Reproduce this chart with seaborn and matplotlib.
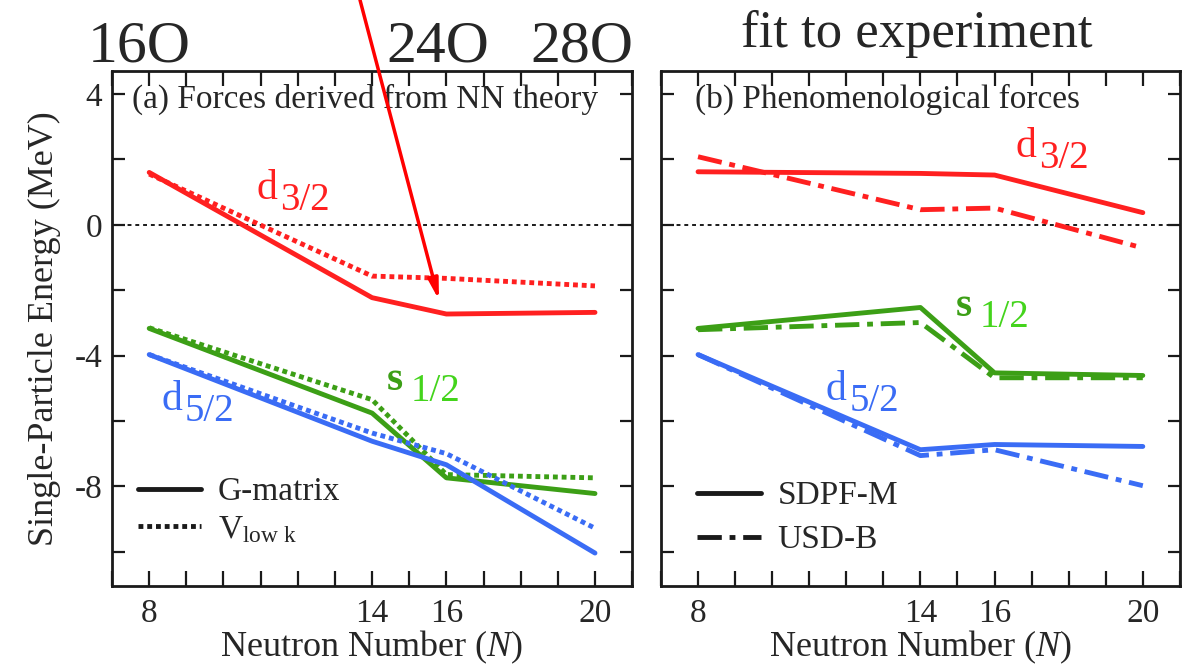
import numpy as np
import pandas as pd
import matplotlib
matplotlib.use("Agg")
import matplotlib.pyplot as plt
import seaborn as sns
from matplotlib.lines import Line2D

# neutron numbers where the energies are given
N = [8, 14, 16, 20]

# (a) forces derived from NN theory
a_d32_g = [1.60, -2.23, -2.73, -2.68]
a_d32_v = [1.55, -1.57, -1.64, -1.87]
a_s12_g = [-3.17, -5.76, -7.74, -8.22]
a_s12_v = [-3.15, -5.35, -7.64, -7.74]
a_d52_g = [-3.97, -6.62, -7.34, -10.04]
a_d52_v = [-3.97, -6.37, -7.00, -9.28]

# (b) phenomenological forces
b_d32_s = [1.62, 1.57, 1.52, 0.37]
b_d32_u = [2.08, 0.46, 0.51, -0.71]
b_s12_s = [-3.17, -2.53, -4.53, -4.61]
b_s12_u = [-3.21, -2.99, -4.68, -4.68]
b_d52_s = [-3.97, -6.88, -6.72, -6.78]
b_d52_u = [-3.97, -7.06, -6.88, -7.98]

x_labels = {8: "8", 14: "14", 16: "16", 20: "20"}
y_labels = {4: "4", 0: "0", -4: "-4", -8: "-8"}
isotopes = ["16O", "24O", "28O"]

RED = "#ff2020"
GREEN = "#3c9f16"
GREEN_LT = "#44d41c"
BLUE = "#3a6cf5"
palette = {"d3/2": RED, "s1/2": GREEN, "d5/2": BLUE}
SERIF = ["Liberation Serif", "DejaVu Serif"]


def long_frame(series, forces):
    rows = []
    for orb, pair in series.items():
        for force, vals in zip(forces, pair):
            for n, e in zip(N, vals):
                rows.append({"N": n, "E": e, "orbital": orb, "force": force})
    return pd.DataFrame(rows)


df_a = long_frame({"d3/2": (a_d32_g, a_d32_v), "s1/2": (a_s12_g, a_s12_v),
                   "d5/2": (a_d52_g, a_d52_v)}, ["G-matrix", "Vlowk"])
df_b = long_frame({"d3/2": (b_d32_s, b_d32_u), "s1/2": (b_s12_s, b_s12_u),
                   "d5/2": (b_d52_s, b_d52_u)}, ["SDPF-M", "USD-B"])

sns.set_theme(style="ticks")
plt.rcParams["font.family"] = SERIF
plt.rcParams["mathtext.fontset"] = "custom"
plt.rcParams["mathtext.rm"] = "Liberation Serif"
plt.rcParams["mathtext.it"] = "Liberation Serif:italic"

fig = plt.figure(figsize=(11.82, 6.66), dpi=100)
ax1 = fig.add_axes([0.0948, 0.120, 0.440, 0.7733])
ax2 = fig.add_axes([0.5592, 0.120, 0.439, 0.7733])

DOT = (1, 0.8)
DASHDOT = (5, 1.6, 1.2, 1.6)
LW = 3.5

sns.lineplot(data=df_a, x="N", y="E", hue="orbital", style="force", palette=palette,
             dashes={"G-matrix": "", "Vlowk": DOT}, estimator=None, sort=False,
             lw=LW, legend=False, ax=ax1)
sns.lineplot(data=df_b, x="N", y="E", hue="orbital", style="force", palette=palette,
             dashes={"SDPF-M": "", "USD-B": DASHDOT}, estimator=None, sort=False,
             lw=LW, legend=False, ax=ax2)

for ax in (ax1, ax2):
    ax.axhline(0, color="k", lw=1.4, ls=(0, (2, 2)), zorder=1)
    ax.set_xlim(7, 21)
    ax.set_ylim(-11.05, 4.7)
    ax.set_xticks(range(7, 22))
    ax.set_xticklabels([x_labels.get(v, "") for v in range(7, 22)])
    ax.set_yticks(range(-10, 5, 2))
    ax.tick_params(axis="both", direction="in", top=True, right=True,
                   labelsize=24, width=1.6, color="k")
    ax.tick_params(axis="x", length=11, pad=9)
    ax.tick_params(axis="y", length=9, pad=7)
    for s in ax.spines.values():
        s.set_linewidth(2)
        s.set_color("k")
    ax.set_xlabel("Neutron Number ($N$)", fontsize=26, labelpad=0)

ax1.set_yticklabels([y_labels.get(v, "") for v in range(-10, 5, 2)])
ax2.set_yticklabels([])
ax1.set_ylabel("Single-Particle Energy (MeV)", fontsize=26, labelpad=10)
ax2.set_ylabel("")

ax1.text(0.038, 0.945, "(a) Forces derived from NN theory", transform=ax1.transAxes,
         fontsize=24, va="center", ha="left")
ax2.text(0.065, 0.945, "(b) Phenomenological forces", transform=ax2.transAxes,
         fontsize=24, va="center", ha="left")


def orbital_label(ax, x, y, main, sub, color, subcolor, bold=False):
    ax.text(x, y, main, color=color, fontsize=30, ha="left", va="baseline",
            fontweight="bold" if bold else "normal")
    ax.annotate(sub, xy=(x, y), xytext=(17, -8), textcoords="offset points",
                color=subcolor, fontsize=28, ha="left", va="baseline")


orbital_label(ax1, 10.9, 0.8, "d", "3/2", RED, RED)
orbital_label(ax1, 14.39, -5.05, "s", "1/2", GREEN, GREEN_LT, bold=True)
orbital_label(ax1, 8.32, -5.66, "d", "5/2", BLUE, BLUE)
orbital_label(ax2, 16.56, 2.08, "d", "3/2", RED, RED)
orbital_label(ax2, 14.95, -2.78, "s", "1/2", GREEN, GREEN_LT, bold=True)
orbital_label(ax2, 11.44, -5.35, "d", "5/2", BLUE, BLUE)

h_a = [Line2D([], [], color="k", lw=LW), Line2D([], [], color="k", lw=LW, dashes=DOT)]
ax1.legend(h_a, ["G-matrix", r"V$_{\mathrm{low\ k}}$"], loc="lower left",
           bbox_to_anchor=(0.05, 0.08), frameon=False, fontsize=24,
           handlelength=1.9, handletextpad=0.5, labelspacing=0.2,
           borderpad=0, borderaxespad=0)
h_b = [Line2D([], [], color="k", lw=LW), Line2D([], [], color="k", lw=LW, dashes=DASHDOT)]
ax2.legend(h_b, ["SDPF-M", "USD-B"], loc="lower left",
           bbox_to_anchor=(0.07, 0.06), frameon=False, fontsize=24,
           handlelength=1.9, handletextpad=0.5, labelspacing=0.4,
           borderpad=0, borderaxespad=0)

# isotope marks and note above the panels
for name, xpx in zip(isotopes, [88, 386, 530]):
    fig.text(xpx / 1182, 1 - 62 / 666, name, fontsize=43, ha="left", va="baseline",
             family=SERIF)
fig.text(741 / 1182, 1 - 47 / 666, "fit to experiment", fontsize=38, ha="left",
         va="baseline", family=SERIF)

ax1.annotate("", xy=(15.8, -2.3), xycoords="data", xytext=(360 / 1182, 1.0),
             textcoords="figure fraction", annotation_clip=False, zorder=20,
             arrowprops=dict(arrowstyle="-|>,head_length=1.0,head_width=0.25",
                             color="red", lw=2.5, shrinkA=0, shrinkB=0))

fig.savefig("out.png", dpi=100)
